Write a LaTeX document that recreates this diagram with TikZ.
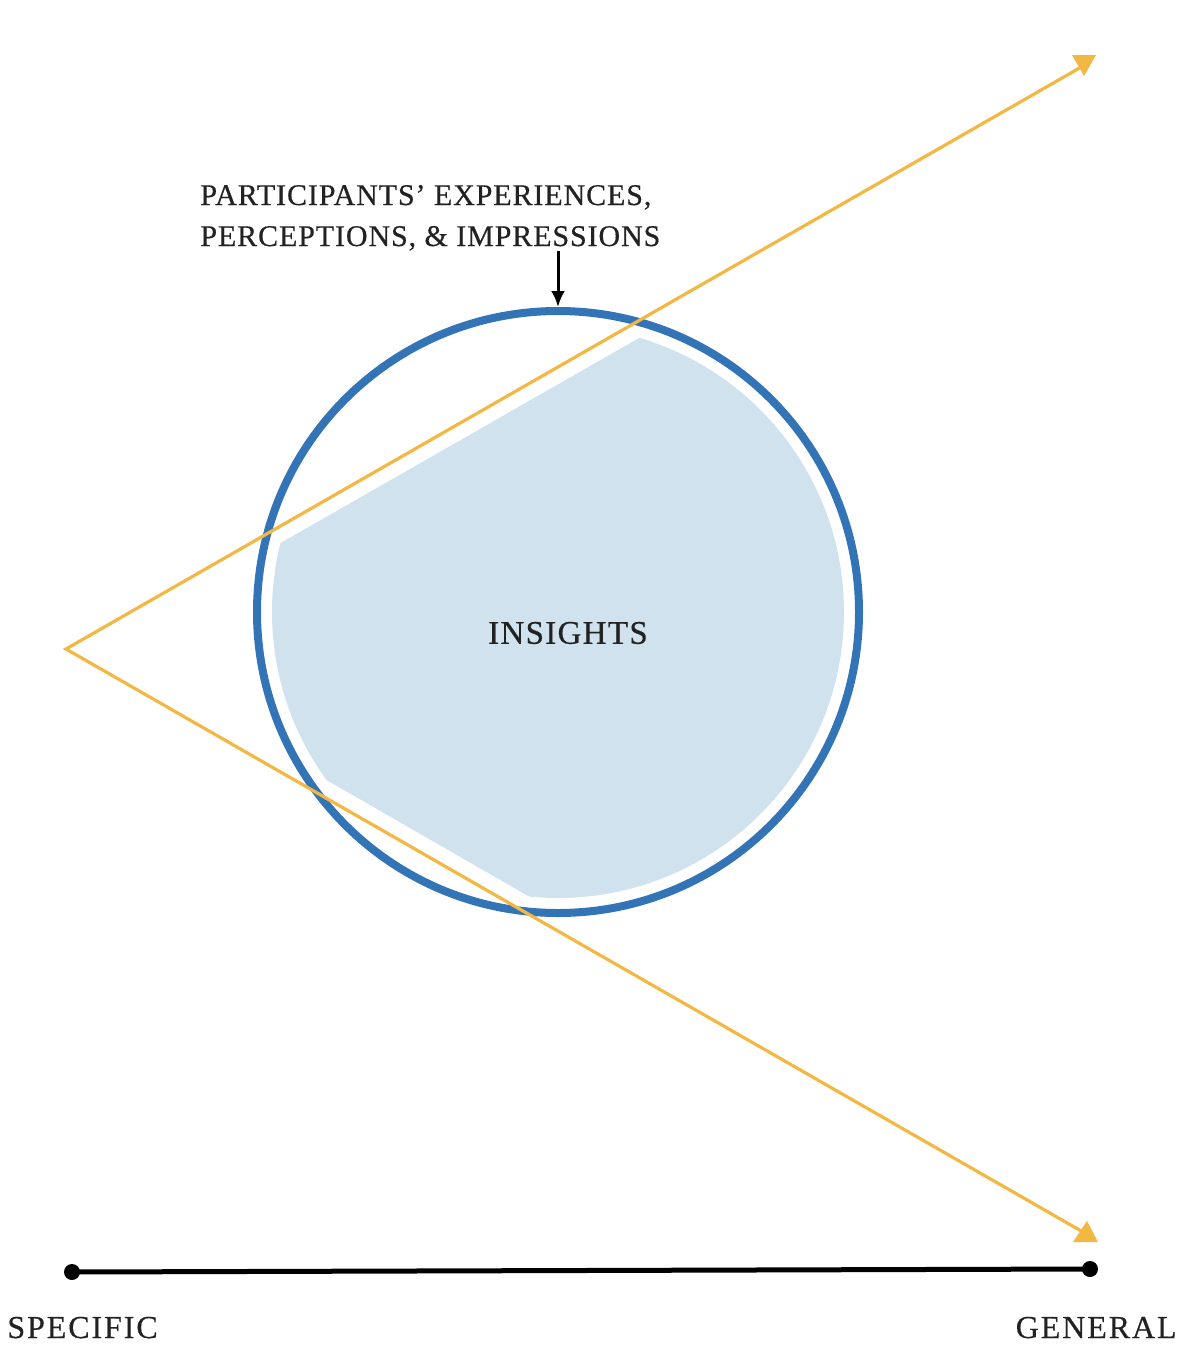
\documentclass[tikz,border=0pt]{standalone}
\usepackage{fontspec}
\usetikzlibrary{arrows.meta}
\setmainfont{Liberation Serif}
\newfontfamily\topfont{Liberation Serif}[LetterSpace=3,FakeBold=0.5]
\newfontfamily\insfont{Liberation Serif}[LetterSpace=4,FakeBold=0.5]
\newfontfamily\endfont{Liberation Serif}[LetterSpace=6,FakeBold=0.5]
\definecolor{ringblue}{HTML}{3274B5}
\definecolor{fillblue}{HTML}{CFE2EE}
\definecolor{wedgeyellow}{HTML}{F2B843}
\definecolor{inkgray}{HTML}{222222}
\begin{document}
\begin{tikzpicture}[x=0.5pt,y=-0.5pt,
  wedge/.style={draw=wedgeyellow,line width=1.6pt},
  tipfill/.style={fill=wedgeyellow},
  lbl/.style={inner sep=0pt,anchor=base west,text=inkgray},
  dotpt/.style={circle,fill=black,inner sep=0pt,minimum size=8pt}]
\useasboundingbox (0,0) rectangle (1200,1371);
% light blue region
\begin{scope}
  \clip (558,612) circle[radius=286];
  \fill[fillblue] (97,648) -- (1300,-40) -- (1300,1340) -- cycle;
\end{scope}
% ring
\node[circle,draw=ringblue,line width=4pt,minimum size=301pt,inner sep=0pt] (ring) at (558,612) {};
% wedge
\coordinate (apex) at (66,649);
\coordinate (up) at (1083,66);
\coordinate (lo) at (1083,1232);
\draw[wedge,line join=miter] (up) -- (apex) -- (lo);
\fill[tipfill] (1072,55) -- (1096,55) -- (1084,76) -- cycle;
\fill[tipfill] (1073,1242) -- (1098,1242) -- (1087,1221) -- cycle;
% insights
\node[font=\insfont\fontsize{16.5}{18}\selectfont,text=inkgray] (ins) at (568,633) {INSIGHTS};
% top label
\node[lbl,font=\topfont\fontsize{15}{18}\selectfont] (l1) at (200,205) {PARTICIPANTS’ EXPERIENCES,};
\node[lbl,font=\topfont\fontsize{15}{18}\selectfont] (l2) at (200,246) {PERCEPTIONS, \& IMPRESSIONS};
\coordinate (arrs) at (558,251);
\draw[line width=1.5pt,-{Latex[length=8pt,width=7pt]}] (arrs) -- (ring.north);
% scale
\node[dotpt] (s) at (72,1272) {};
\node[dotpt] (g) at (1090,1269) {};
\draw[line width=2.5pt] (s.center) -- (g.center);
\node[lbl,font=\endfont\fontsize{16}{18}\selectfont] (spec) at (7,1338) {SPECIFIC};
\node[inner sep=0pt,anchor=base east,text=inkgray,font=\endfont\fontsize{16}{18}\selectfont] (gen) at (1177,1338) {GENERAL};
\end{tikzpicture}
\end{document}
